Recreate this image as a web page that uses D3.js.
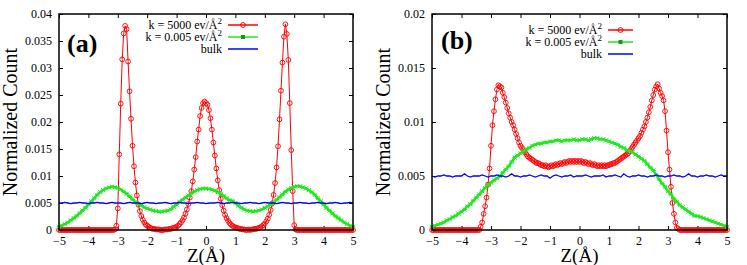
<!DOCTYPE html>
<html>
<head>
<meta charset="utf-8">
<script src="https://cdn.jsdelivr.net/npm/d3@7"></script>
</head>
<body style="margin:0; background:#fff">
<svg id="canvas" width="747" height="265" font-family="Liberation Serif"></svg>
<script>
// z grid: red curves every 0.05 A, green / blue every 0.1 A, from -5 to 5
const zMin = -5, fineStep = 0.05, coarseStep = 0.1;

const xTicks = [-5, -4, -3, -2, -1, 0, 1, 2, 3, 4, 5];
const yTicksA = [0, 0.005, 0.01, 0.015, 0.02, 0.025, 0.03, 0.035, 0.04];
const yTicksB = [0, 0.005, 0.01, 0.015, 0.02];
const seriesNames = ["k = 5000 ev/Å", "k = 0.005 ev/Å", "bulk"];

// (a) k = 5000
const redA = [
  0,0,0,0,0,0,0,0,0,0, 0,0,0,0,0,0,0,0,0,0, 0,0,0,0,0,0,0,0,0,0, 0,0,0,0,0,0,0,
  0.0000,0.0001,0.0008,0.0040,0.0140,0.0234,0.0316,0.0364,0.0378,0.0372,
  0.0312,0.0257,0.0206,0.0156,0.0118,0.0088,0.0064,0.0047,0.0035,0.0026,
  0.0019,0.0014,0.0010,0.0008,0.0006,0.0004,0.0003,0.0002,0.0002,0.0001,
  0.0001,0.0001,0.0000,0.0000,0.0000,0.0001,0.0001,0.0001,0.0002,0.0002,
  0.0003,0.0004,0.0005,0.0006,0.0008,0.0011,0.0014,0.0018,0.0023,0.0030,
  0.0038,0.0048,0.0060,0.0072,0.0090,0.0112,0.0135,0.0164,0.0186,0.0211,
  0.0226,0.0235,0.0238,0.0235,0.0232,0.0222,0.0207,0.0186,0.0162,0.0138,
  0.0114,0.0092,0.0074,0.0058,0.0046,0.0036,0.0028,0.0022,0.0017,0.0013,
  0.0010,0.0008,0.0006,0.0005,0.0004,0.0003,0.0002,0.0002,0.0001,0.0001,
  0.0000,0.0000,0.0001,0.0000,0.0001,0.0001,0.0002,0.0002,0.0003,0.0004,
  0.0005,0.0007,0.0009,0.0012,0.0016,0.0021,0.0028,0.0037,0.0049,0.0065,
  0.0087,0.0116,0.0155,0.0205,0.0258,0.0310,0.0358,0.0381,0.0363,0.0315,
  0.0235,0.0148,0.0072,0.0009,0.0001,
  0,0,0,0,0,0,0,0,0,0, 0,0,0,0,0,0,0,0,0,0, 0,0,0,0,0,0,0,0,0,0, 0,0,0,0,0,0,0,0,0
];
// (a) k = 0.005
const greenA = [
  0.0006,0.0008,0.0011,0.0014,0.0018,0.0022,0.0026,0.0031,0.0036,0.0041,
  0.0047,0.0053,0.0059,0.0065,0.0070,0.0074,0.0077,0.0079,0.0080,0.0079,
  0.0078,0.0075,0.0071,0.0067,0.0062,0.0057,0.0052,0.0048,0.0045,0.0042,
  0.0040,0.0038,0.0036,0.0035,0.0034,0.0034,0.0035,0.0036,0.0038,0.0043,
  0.0047,0.0052,0.0056,0.0060,0.0064,0.0068,0.0071,0.0074,0.0076,0.0077,
  0.0077,0.0076,0.0075,0.0073,0.0070,0.0067,0.0063,0.0059,0.0055,0.0054,
  0.0050,0.0045,0.0041,0.0038,0.0036,0.0035,0.0034,0.0035,0.0036,0.0038,
  0.0041,0.0044,0.0047,0.0051,0.0056,0.0061,0.0066,0.0071,0.0075,0.0078,
  0.0080,0.0081,0.0081,0.0079,0.0077,0.0074,0.0070,0.0065,0.0059,0.0053,
  0.0047,0.0041,0.0036,0.0031,0.0026,0.0022,0.0018,0.0014,0.0011,0.0008,
  0.0006
];
// (a) bulk
const blueA = [
  0.0050,0.0050,0.0051,0.0050,0.0049,0.0050,0.0050,0.0051,0.0050,0.0050,
  0.0049,0.0050,0.0050,0.0051,0.0050,0.0050,0.0049,0.0050,0.0051,0.0050,
  0.0050,0.0050,0.0049,0.0050,0.0051,0.0050,0.0050,0.0050,0.0049,0.0050,
  0.0051,0.0050,0.0050,0.0049,0.0050,0.0050,0.0051,0.0050,0.0049,0.0050,
  0.0050,0.0051,0.0050,0.0050,0.0049,0.0050,0.0050,0.0051,0.0050,0.0050,
  0.0049,0.0050,0.0050,0.0050,0.0051,0.0050,0.0049,0.0050,0.0050,0.0051,
  0.0050,0.0050,0.0049,0.0050,0.0050,0.0051,0.0050,0.0050,0.0049,0.0050,
  0.0051,0.0050,0.0050,0.0050,0.0049,0.0050,0.0051,0.0050,0.0050,0.0049,
  0.0050,0.0050,0.0051,0.0050,0.0050,0.0049,0.0050,0.0050,0.0051,0.0050,
  0.0050,0.0049,0.0050,0.0050,0.0051,0.0050,0.0049,0.0050,0.0050,0.0051,
  0.0050
];

// (b) k = 5000
const redB = [
  0,0,0,0,0,0,0,0,0,0, 0,0,0,0,0,0,0,0,0,0, 0,0,0,0,0,0,0,0,0,0, 0,0,0,
  0.0003,0.0007,0.0015,0.0022,0.0030,0.0042,0.0057,0.0078,0.0097,0.0110,
  0.0121,0.0130,0.0134,0.0133,0.0132,0.0127,0.0123,0.0118,0.0113,0.0108,
  0.0104,0.0100,0.0097,0.0093,0.0089,0.0085,0.0081,0.0078,0.0076,0.0074,
  0.0072,0.0070,0.0068,0.0067,0.0066,0.0065,0.0064,0.0063,0.0062,0.0062,
  0.0061,0.0060,0.0060,0.0059,0.0060,0.0059,0.0058,0.0059,0.0060,0.0059,
  0.0060,0.0061,0.0060,0.0061,0.0062,0.0061,0.0062,0.0063,0.0062,0.0063,
  0.0064,0.0063,0.0064,0.0063,0.0064,0.0063,0.0064,0.0063,0.0064,0.0063,
  0.0062,0.0063,0.0062,0.0061,0.0062,0.0061,0.0060,0.0061,0.0060,0.0059,
  0.0060,0.0059,0.0060,0.0059,0.0060,0.0059,0.0060,0.0060,0.0061,0.0061,
  0.0062,0.0062,0.0063,0.0064,0.0065,0.0066,0.0067,0.0068,0.0069,0.0070,
  0.0071,0.0073,0.0075,0.0077,0.0079,0.0081,0.0083,0.0085,0.0087,0.0090,
  0.0093,0.0096,0.0100,0.0104,0.0109,0.0114,0.0120,0.0125,0.0130,0.0133,
  0.0135,0.0131,0.0127,0.0124,0.0120,0.0110,0.0092,0.0072,0.0056,0.0040,
  0.0025,0.0015,0.0007,0.0002,0.0001,
  0,0,0,0,0,0,0,0,0,0, 0,0,0,0,0,0,0,0,0,0, 0,0,0,0,0,0,0,0,0,0, 0,0,0
];
// (b) k = 0.005
const greenB = [
  0.0003,0.0004,0.0005,0.0006,0.0007,0.0009,0.0010,0.0012,0.0013,0.0015,
  0.0017,0.0019,0.0022,0.0024,0.0027,0.0030,0.0033,0.0036,0.0039,0.0042,
  0.0044,0.0046,0.0048,0.0050,0.0053,0.0056,0.0059,0.0063,0.0067,0.0069,
  0.0071,0.0073,0.0075,0.0076,0.0078,0.0079,0.0080,0.0080,0.0081,0.0081,
  0.0082,0.0082,0.0083,0.0083,0.0082,0.0083,0.0083,0.0083,0.0084,0.0083,
  0.0083,0.0084,0.0084,0.0083,0.0084,0.0085,0.0085,0.0084,0.0084,0.0083,
  0.0082,0.0081,0.0080,0.0079,0.0077,0.0076,0.0074,0.0073,0.0072,0.0070,
  0.0068,0.0066,0.0064,0.0061,0.0058,0.0055,0.0051,0.0047,0.0043,0.0040,
  0.0036,0.0033,0.0029,0.0026,0.0023,0.0021,0.0019,0.0017,0.0015,0.0013,
  0.0013,0.0012,0.0011,0.0010,0.0009,0.0008,0.0007,0.0006,0.0005,0.0004,
  0.0003
];
// (b) bulk
const blueB = [
  0.0050,0.0049,0.0050,0.0050,0.0051,0.0050,0.0050,0.0049,0.0050,0.0050,
  0.0050,0.0052,0.0050,0.0049,0.0050,0.0050,0.0050,0.0051,0.0050,0.0049,
  0.0050,0.0050,0.0051,0.0050,0.0050,0.0049,0.0050,0.0052,0.0050,0.0050,
  0.0049,0.0050,0.0050,0.0051,0.0050,0.0049,0.0050,0.0051,0.0050,0.0050,
  0.0048,0.0050,0.0051,0.0050,0.0049,0.0050,0.0050,0.0051,0.0049,0.0050,
  0.0050,0.0050,0.0051,0.0050,0.0049,0.0050,0.0050,0.0050,0.0051,0.0049,
  0.0050,0.0050,0.0051,0.0050,0.0049,0.0052,0.0050,0.0049,0.0050,0.0050,
  0.0051,0.0050,0.0050,0.0049,0.0050,0.0050,0.0051,0.0050,0.0050,0.0049,
  0.0050,0.0050,0.0051,0.0050,0.0050,0.0049,0.0050,0.0052,0.0050,0.0050,
  0.0049,0.0050,0.0050,0.0051,0.0050,0.0050,0.0049,0.0050,0.0051,0.0050,
  0.0050
];

const svg = d3.select("#canvas");
const FONT = "Liberation Serif";
const RED = "#ff0000", GREEN = "#22e622", BLUE = "#0000ff";

function toPoints(vals, step){
        return vals.map((v, i) => [zMin + i*step, v]);
}

function drawPanel(p){
        const x = d3.scaleLinear().domain([-5, 5]).range([p.left, p.right]);
        const y = d3.scaleLinear().domain([0, p.yMax]).range([p.bottom, p.top]);
        const g = svg.append("g");

        // ticks, mirrored on all four sides, pointing inward
        const axes = g.append("g");
        axes.append("g").attr("transform", `translate(0,${p.bottom})`)
          .call(d3.axisBottom(x).tickValues(xTicks).tickSize(-4).tickPadding(6).tickFormat(d3.format("d")));
        axes.append("g").attr("transform", `translate(0,${p.top})`)
          .call(d3.axisTop(x).tickValues(xTicks).tickSize(-4).tickFormat(""));
        axes.append("g").attr("transform", `translate(${p.left},0)`)
          .call(d3.axisLeft(y).tickValues(p.yTicks).tickSize(-4).tickPadding(7).tickFormat(d => String(d)));
        axes.append("g").attr("transform", `translate(${p.right},0)`)
          .call(d3.axisRight(y).tickValues(p.yTicks).tickSize(-4).tickFormat(""));
        axes.selectAll(".domain").remove();
        axes.selectAll(".tick line").attr("stroke", "#000").attr("stroke-width", 1);
        axes.selectAll(".tick text").attr("fill", "#000")
          .attr("font-family", FONT).attr("font-size", 12);

        const line = d3.line().x(d => x(d[0])).y(d => y(d[1]));

        // k = 5000: red line + open circles
        const red = toPoints(p.red, fineStep);
        g.append("path").datum(red).attr("d", line)
          .attr("fill", "none").attr("stroke", RED).attr("stroke-width", 1);
        g.append("g").selectAll("circle").data(red).join("circle")
          .attr("cx", d => x(d[0])).attr("cy", d => y(d[1])).attr("r", 2.4)
          .attr("fill", "none").attr("stroke", RED).attr("stroke-width", 0.9);

        // k = 0.005: green line + small crosses
        const green = toPoints(p.green, coarseStep);
        g.append("path").datum(green).attr("d", line)
          .attr("fill", "none").attr("stroke", GREEN).attr("stroke-width", 2.5);
        g.append("g").selectAll("path").data(green).join("path")
          .attr("d", d => {const cx = x(d[0]), cy = y(d[1]);
                return `M${cx-2},${cy-2}L${cx+2},${cy+2}M${cx-2},${cy+2}L${cx+2},${cy-2}M${cx-2.5},${cy}L${cx+2.5},${cy}`})
          .attr("stroke", GREEN).attr("stroke-width", 1);

        // bulk
        g.append("path").datum(toPoints(p.blue, coarseStep)).attr("d", line)
          .attr("fill", "none").attr("stroke", BLUE).attr("stroke-width", 1.3);

        // frame
        g.append("rect").attr("x", p.left).attr("y", p.top)
          .attr("width", p.right - p.left).attr("height", p.bottom - p.top)
          .attr("fill", "none").attr("stroke", "#000").attr("stroke-width", 1.5);

        // panel tag
        g.append("text").attr("x", p.tagX).attr("y", p.tagY).attr("font-family", FONT)
          .attr("font-size", 26).attr("font-weight", "bold").text(p.tag);

        // axis titles
        g.append("text").attr("x", (p.left + p.right)/2).attr("y", 262).attr("font-family", FONT)
          .attr("text-anchor", "middle").attr("font-size", 19).text("Z(Å)");
        g.append("text").attr("transform", `translate(${p.left - 42},${(p.top + p.bottom)/2}) rotate(-90)`)
          .attr("font-family", FONT).attr("text-anchor", "middle").attr("font-size", 20).text("Normalized Count");

        // legend
        const colors = [RED, GREEN, BLUE];
        seriesNames.forEach((name, i) => {
                const ly = p.legY + i*12;
                const t = g.append("text").attr("x", p.legX - 6).attr("y", ly + 4).attr("font-family", FONT)
                  .attr("text-anchor", "end").attr("font-size", 12);
                t.append("tspan").text(name);
                if (i < 2) t.append("tspan").attr("dy", -5).attr("font-size", 9).text("2");
                g.append("line").attr("x1", p.legX).attr("x2", p.legX + p.legW)
                  .attr("y1", ly).attr("y2", ly).attr("stroke", colors[i]).attr("stroke-width", 1.5);
                const mx = p.legX + p.legW/2;
                if (i == 0) g.append("circle").attr("cx", mx).attr("cy", ly).attr("r", 2.4)
                  .attr("fill", "none").attr("stroke", RED);
                if (i == 1) g.append("rect").attr("x", mx - 2).attr("y", ly - 2)
                  .attr("width", 4).attr("height", 4).attr("fill", "#119911");
        });
}

drawPanel({left: 59, right: 353, top: 14, bottom: 230, yMax: 0.04, yTicks: yTicksA,
        red: redA, green: greenA, blue: blueA, tag: "(a)", tagX: 67, tagY: 52,
        legX: 228, legW: 30, legY: 25});
drawPanel({left: 432, right: 727, top: 14, bottom: 230, yMax: 0.02, yTicks: yTicksB,
        red: redB, green: greenB, blue: blueB, tag: "(b)", tagX: 441, tagY: 49,
        legX: 608, legW: 25, legY: 30});
</script>
</body>
</html>
